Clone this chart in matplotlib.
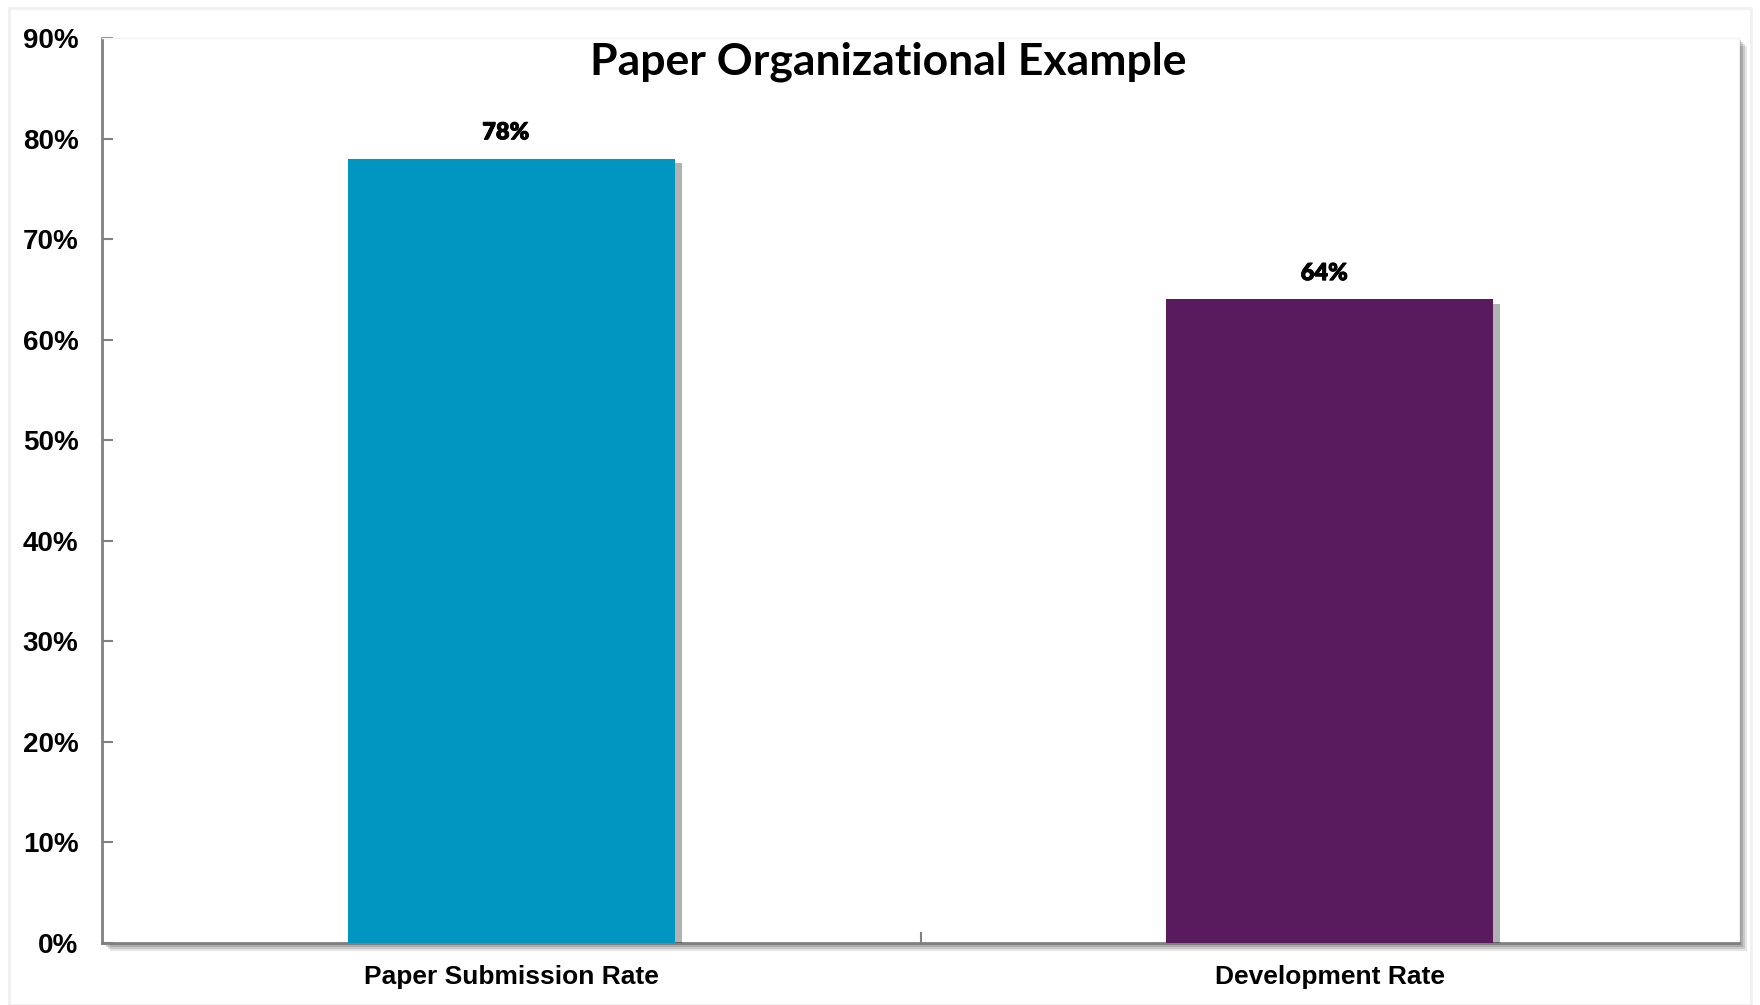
import matplotlib
matplotlib.use("Agg")
import matplotlib.pyplot as plt
import matplotlib.patheffects as pe
from matplotlib.patches import Rectangle
from matplotlib.ticker import MultipleLocator, FuncFormatter

categories = ["Paper Submission Rate", "Development Rate"]
values = [78, 64]
colors = ["#0096C1", "#5A1A5E"]
title = "Paper Organizational Example"

W, H = 1760, 1005
fig = plt.figure(figsize=(W / 100, H / 100), dpi=100)
fig.patch.set_facecolor("white")

# faint outer chart frame
fig.patches.append(Rectangle((9 / W, 0), 1 - 18 / W, 1 - 8 / H, transform=fig.transFigure,
                             fill=False, edgecolor="#f0f0f0", linewidth=2))

left, right, top, bottom = 102, 1739, 38, 943
ax = fig.add_axes([left / W, 1 - bottom / H, (right - left) / W, (bottom - top) / H])

# plot-area drop shadow (layered)
for i, a in enumerate([0.10, 0.12, 0.15, 0.2]):
    off = 8 - 2 * i
    fig.patches.append(Rectangle(((left + off) / W, 1 - (bottom + off) / H),
                                 (right - left) / W, (bottom - top) / H,
                                 transform=fig.transFigure, facecolor="black",
                                 alpha=a, edgecolor="none", zorder=-1))

x = list(range(len(categories)))
bars = ax.bar(x, values, width=0.4, color=colors, zorder=3)
for b in bars:
    b.set_path_effects([pe.SimplePatchShadow(offset=(5, -3), shadow_rgbFace="black", alpha=0.3),
                        pe.Normal()])

for xi, v in zip(x, values):
    ax.annotate(f"{v}%", (xi, v), xytext=(-4, 11), textcoords="offset points",
                ha="center", va="bottom", fontsize=17, fontweight="heavy",
                family="Lato", color="black",
                path_effects=[pe.withStroke(linewidth=0.6, foreground="black")])

ax.set_xlim(-0.5, 1.5)
ax.set_ylim(0, 90)
ax.yaxis.set_major_locator(MultipleLocator(10))
ax.yaxis.set_major_formatter(FuncFormatter(lambda v, p: f"{int(v)}%"))
ax.set_xticks(x)
ax.set_xticklabels(categories)
ax.set_xticks([0.5], minor=True)

for lab in ax.get_yticklabels():
    lab.set_family("Liberation Sans")
    lab.set_fontweight("bold")
    lab.set_fontsize(20)
for lab in ax.get_xticklabels():
    lab.set_family("Liberation Sans")
    lab.set_fontweight("bold")
    lab.set_fontsize(19)

ax.tick_params(axis="y", direction="in", length=8, width=1.5, color="#808080", pad=17)
ax.tick_params(axis="x", which="major", length=0, pad=15.5)
ax.tick_params(axis="x", which="minor", direction="in", length=8, width=1.5, color="#808080")

for s in ["left", "bottom"]:
    ax.spines[s].set_color("#808080")
    ax.spines[s].set_linewidth(2)
for s in ["top", "right"]:
    ax.spines[s].set_color("#f4f4f4")
    ax.spines[s].set_linewidth(1)

fig.text(888 / W, 1 - 62 / H, title, ha="center", va="center", fontsize=32,
         fontweight="bold", family="Lato")

fig.savefig("out.png", dpi=100)
